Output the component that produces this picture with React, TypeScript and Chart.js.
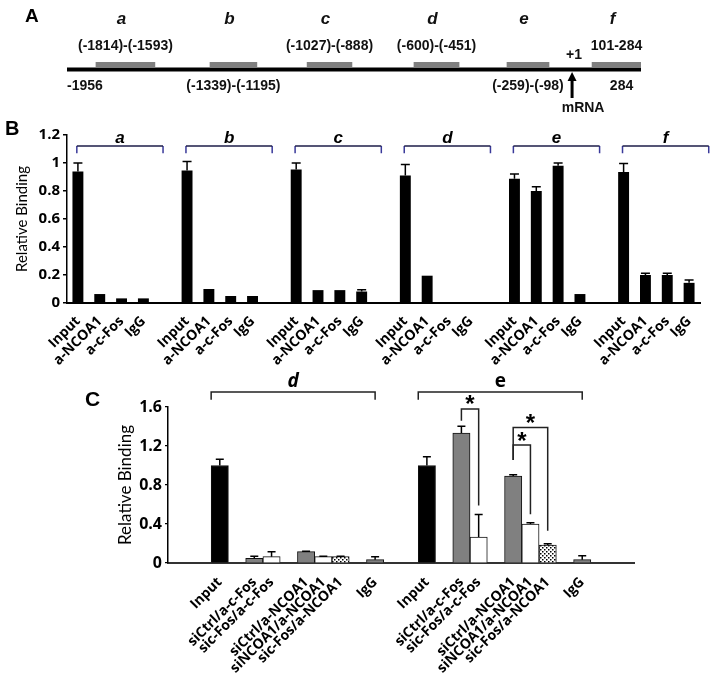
import React, { useEffect, useRef } from 'react';
import { Chart, registerables } from 'chart.js';
Chart.register(...registerables);

// ---------------- Panel A : promoter map ----------------
const trackStart = -1956;
const trackEnd = 284;
const tssPos = 15;
const segNames = ['a', 'b', 'c', 'd', 'e', 'f'];
const segStart = [-1843, -1398, -1019, -602, -239, 93];
const segEnd = [-1613, -1215, -844, -426, -75, 284];
const segRangeText = ['(-1814)-(-1593)', '(-1339)-(-1195)', '(-1027)-(-888)', '(-600)-(-451)', '(-259)-(-98)', '101-284'];
const segRangeBelow = [false, true, false, false, true, false];

// ---------------- Panel B : ChIP per region ----------------
const bGroups = ['a', 'b', 'c', 'd', 'e', 'f'];
const bAntibodies = ['Input', 'a-NCOA1', 'a-c-Fos', 'IgG'];
const bValA = [0.94, 0.064, 0.033, 0.033];
const bValB = [0.946, 0.1, 0.05, 0.05];
const bValC = [0.953, 0.092, 0.092, 0.082];
const bValD = [0.91, 0.195, 0.005, 0.005];
const bValE = [0.887, 0.8, 0.98, 0.064];
const bValF = [0.936, 0.2, 0.2, 0.144];
const bErrA = [0.06, 0, 0, 0];
const bErrB = [0.065, 0, 0, 0];
const bErrC = [0.047, 0, 0, 0.012];
const bErrD = [0.08, 0, 0, 0];
const bErrE = [0.035, 0.03, 0.02, 0];
const bErrF = [0.06, 0.012, 0.012, 0.02];
const bYTicks = { min: 0, max: 1.2, step: 0.2 };

// ---------------- Panel C : siRNA ChIP ----------------
const cGroups = ['d', 'e'];
const cLabels = ['Input', 'siCtrl/a-c-Fos', 'sic-Fos/a-c-Fos', 'siCtrl/a-NCOA1', 'siNCOA1/a-NCOA1', 'sic-Fos/a-NCOA1', 'IgG'];
const cKinds = ['input', 'ctrl', 'kd', 'ctrl', 'kd', 'kd2', 'igg'];
const cValD = [1.0, 0.048, 0.065, 0.116, 0.065, 0.065, 0.034];
const cErrD = [0.065, 0.02, 0.05, 0.005, 0.005, 0.003, 0.03];
const cValE = [1.0, 1.333, 0.267, 0.892, 0.4, 0.185, 0.034];
const cErrE = [0.09, 0.07, 0.23, 0.012, 0.012, 0.012, 0.04];
const sigFrom = [1, 3, 3];
const sigTo = [2, 4, 5];
const sigTop = [1.58, 1.21, 1.39];
const sigLeftBase = [1.46, 1.056, 1.056];
const sigRightBase = [0.59, 0.5, 0.33];
const cYTicks = { min: 0, max: 1.6, step: 0.2, labelEvery: 0.4 };

const BOLD_FONT = '"Open Sans"';
const TITLE_FONT = 'Lato';

const fmt = (v: any) => String(Math.round(Number(v) * 10) / 10);

function makeA(canvas: HTMLCanvasElement) {
  const labelsPlugin = {
    id: 'aLabels',
    afterDraw(chart: any) {
      const ctx = chart.ctx;
      const xs = chart.scales.x;
      const { top, bottom } = chart.chartArea;
      ctx.save();
      ctx.fillStyle = '#111';
      ctx.textAlign = 'center';
      ctx.textBaseline = 'middle';
      segNames.forEach((n, i) => {
        const cx = xs.getPixelForValue((segStart[i] + segEnd[i]) / 2);
        ctx.font = 'italic bold 17px "Liberation Sans", Arial';
        ctx.fillText(n, cx - 4, top - 43);
        ctx.font = 'bold 14px "Liberation Sans", Arial';
        ctx.fillText(segRangeText[i], cx, segRangeBelow[i] ? bottom + 14 : top - 16);
      });
      ctx.font = 'bold 14px "Liberation Sans", Arial';
      ctx.textAlign = 'left';
      ctx.fillText(String(trackStart), xs.getPixelForValue(trackStart), bottom + 14);
      ctx.textAlign = 'center';
      const fIdx = segNames.length - 1;
      ctx.fillText(String(trackEnd), xs.getPixelForValue((segStart[fIdx] + segEnd[fIdx]) / 2) + 5, bottom + 14);
      const ax = xs.getPixelForValue(tssPos);
      ctx.fillText('+1', ax + 2, top - 7);
      ctx.fillText('mRNA', ax + 11, bottom + 36);
      // arrow
      ctx.strokeStyle = '#000';
      ctx.lineWidth = 3;
      ctx.beginPath();
      ctx.moveTo(ax, bottom + 26);
      ctx.lineTo(ax, top + 17);
      ctx.stroke();
      ctx.beginPath();
      ctx.moveTo(ax, top + 10);
      ctx.lineTo(ax - 4.5, top + 19);
      ctx.lineTo(ax + 4.5, top + 19);
      ctx.closePath();
      ctx.fillStyle = '#000';
      ctx.fill();
      ctx.restore();
    },
  };
  return new Chart(canvas, {
    type: 'bar',
    data: {
      labels: ['box', 'track'],
      datasets: [
        ...segNames.map((n, i) => ({
          label: n,
          data: [[segStart[i], segEnd[i]], null] as any,
          backgroundColor: '#7f7f7f',
          grouped: false,
          barPercentage: 1,
          categoryPercentage: 1,
        })),
        {
          label: 'track',
          data: [null, [trackStart, trackEnd]] as any,
          backgroundColor: '#000',
          grouped: false,
          barThickness: 3.5,
        },
      ],
    },
    options: {
      indexAxis: 'y',
      responsive: false,
      animation: false,
      layout: { padding: { top: 62, bottom: 46, left: 67, right: 73 } },
      scales: {
        x: { type: 'linear', min: trackStart, max: trackEnd, display: false },
        y: { display: false },
      },
      plugins: { legend: { display: false }, tooltip: { enabled: false } },
    },
    plugins: [labelsPlugin],
  } as any);
}

function makeB(canvas: HTMLCanvasElement) {
  const vals = [bValA, bValB, bValC, bValD, bValE, bValF];
  const errs = [bErrA, bErrB, bErrC, bErrD, bErrE, bErrF];
  const labels: string[] = [];
  const data: (number | null)[] = [];
  const err: number[] = [];
  const groupStart: number[] = [];
  bGroups.forEach((g, gi) => {
    if (gi > 0) {
      labels.push('');
      data.push(null);
      err.push(0);
    }
    groupStart.push(labels.length);
    bAntibodies.forEach((ab, ai) => {
      labels.push(ab);
      data.push(vals[gi][ai]);
      err.push(errs[gi][ai]);
    });
  });

  const overlay = {
    id: 'bOverlay',
    afterDatasetsDraw(chart: any) {
      const ctx = chart.ctx;
      const xs = chart.scales.x;
      const ys = chart.scales.y;
      const meta = chart.getDatasetMeta(0);
      ctx.save();
      ctx.strokeStyle = '#000';
      ctx.lineWidth = 1.5;
      meta.data.forEach((bar: any, i: number) => {
        const v = data[i];
        if (v == null || !err[i]) return;
        const y0 = ys.getPixelForValue(v);
        const y1 = ys.getPixelForValue(v + err[i]);
        ctx.beginPath();
        ctx.moveTo(bar.x, y0);
        ctx.lineTo(bar.x, y1);
        ctx.moveTo(bar.x - 4.5, y1);
        ctx.lineTo(bar.x + 4.5, y1);
        ctx.stroke();
      });
      bGroups.forEach((g, gi) => {
        const s = groupStart[gi];
        const x0 = xs.getPixelForValue(s - 0.05);
        const x1 = xs.getPixelForValue(s + 3.9);
        const yh = ys.getPixelForValue(1.121);
        const ye = ys.getPixelForValue(1.07);
        ctx.lineWidth = 1.5;
        ctx.strokeStyle = '#3a3a9a';
        ctx.beginPath();
        ctx.moveTo(x0, ye);
        ctx.lineTo(x0, yh);
        ctx.moveTo(x1, ye);
        ctx.lineTo(x1, yh);
        ctx.stroke();
        ctx.strokeStyle = '#1c1c48';
        ctx.beginPath();
        ctx.moveTo(x0, yh);
        ctx.lineTo(x1, yh);
        ctx.stroke();
        ctx.fillStyle = '#000';
        ctx.font = `italic bold 17px "Liberation Sans", Arial`;
        ctx.textAlign = 'center';
        ctx.textBaseline = 'middle';
        ctx.fillText(g, (x0 + x1) / 2, ys.getPixelForValue(1.178));
      });
      ctx.restore();
    },
  };

  return new Chart(canvas, {
    type: 'bar',
    data: {
      labels,
      datasets: [{ data, backgroundColor: '#000', barPercentage: 0.5, categoryPercentage: 1 }],
    },
    options: {
      responsive: false,
      animation: false,
      layout: { padding: { top: 15, right: 14, left: 0, bottom: 0 } },
      plugins: { legend: { display: false }, tooltip: { enabled: false } },
      scales: {
        x: {
          ticks: {
            autoSkip: false,
            minRotation: 45,
            maxRotation: 45,
            color: '#000',
            padding: 2,
            font: { family: BOLD_FONT, weight: 'bold', size: 14 },
          },
          grid: { display: false },
          border: { color: '#000', width: 2 },
          afterFit: (s: any) => { s.height = 62; },
        },
        y: {
          min: bYTicks.min,
          max: bYTicks.max,
          ticks: {
            stepSize: bYTicks.step,
            color: '#000',
            padding: 3,
            font: { family: BOLD_FONT, weight: 'bold', size: 15 },
            callback: fmt,
          },
          grid: { drawOnChartArea: false, color: '#000', tickLength: 4, lineWidth: 1.5 },
          border: { color: '#000', width: 1.5 },
          title: {
            display: true,
            text: 'Relative Binding',
            color: '#000',
            font: { family: TITLE_FONT, size: 15 },
            padding: { top: 13, bottom: 0 },
          },
          afterFit: (s: any) => { s.width = 67; },
        },
      },
    },
    plugins: [overlay],
  } as any);
}

function makeDots(): CanvasPattern | string {
  const p = document.createElement('canvas');
  p.width = 4;
  p.height = 4;
  const c = p.getContext('2d');
  if (!c) return '#ccc';
  c.fillStyle = '#fff';
  c.fillRect(0, 0, 4, 4);
  c.fillStyle = '#000';
  c.fillRect(0, 0, 1.5, 1.5);
  c.fillRect(2, 2, 1.5, 1.5);
  return c.createPattern(p, 'repeat') || '#ccc';
}

function makeC(canvas: HTMLCanvasElement) {
  const dots = makeDots();
  const fillFor: Record<string, any> = {
    input: '#000',
    ctrl: '#808080',
    kd: '#ffffff',
    kd2: dots,
    igg: '#808080',
  };
  const vals = [cValD, cValE];
  const errs = [cErrD, cErrE];
  const labels: string[] = [];
  const data: (number | null)[] = [];
  const err: number[] = [];
  const colors: any[] = [];
  const slotOf: number[][] = [];
  const gap = (n: number) => {
    for (let k = 0; k < n; k++) {
      labels.push('');
      data.push(null);
      err.push(0);
      colors.push('#fff');
    }
  };
  const put = (gi: number, li: number) => {
    slotOf[gi][li] = labels.length;
    labels.push(cLabels[li]);
    data.push(vals[gi][li]);
    err.push(errs[gi][li]);
    colors.push(fillFor[cKinds[li]]);
  };
  gap(3);
  cGroups.forEach((g, gi) => {
    slotOf.push([]);
    if (gi > 0) gap(2);
    put(gi, 0);
    gap(1);
    put(gi, 1);
    put(gi, 2);
    gap(1);
    put(gi, 3);
    put(gi, 4);
    put(gi, 5);
    gap(1);
    put(gi, 6);
  });
  gap(3);

  const overlay = {
    id: 'cOverlay',
    afterDatasetsDraw(chart: any) {
      const ctx = chart.ctx;
      const xs = chart.scales.x;
      const ys = chart.scales.y;
      const meta = chart.getDatasetMeta(0);
      ctx.save();
      ctx.strokeStyle = '#000';
      ctx.lineWidth = 1.5;
      meta.data.forEach((bar: any, i: number) => {
        const v = data[i];
        if (v == null || !err[i]) return;
        const y0 = ys.getPixelForValue(v);
        const y1 = ys.getPixelForValue(v + err[i]);
        ctx.beginPath();
        ctx.moveTo(bar.x, y0);
        ctx.lineTo(bar.x, y1);
        ctx.moveTo(bar.x - 4, y1);
        ctx.lineTo(bar.x + 4, y1);
        ctx.stroke();
      });
      // group brackets
      const groupFonts = [`italic bold 19px ${BOLD_FONT}`, `bold 19px ${BOLD_FONT}`];
      ctx.strokeStyle = '#222';
      cGroups.forEach((g, gi) => {
        const x0 = xs.getPixelForValue(slotOf[gi][0] - 0.5);
        const x1 = xs.getPixelForValue(slotOf[gi][6]);
        const yh = ys.getPixelForValue(1.754);
        const ye = ys.getPixelForValue(1.675);
        ctx.beginPath();
        ctx.moveTo(x0, ye);
        ctx.lineTo(x0, yh);
        ctx.lineTo(x1, yh);
        ctx.lineTo(x1, ye);
        ctx.stroke();
        ctx.fillStyle = '#000';
        ctx.font = groupFonts[gi];
        ctx.textAlign = 'center';
        ctx.textBaseline = 'middle';
        ctx.fillText(g, (x0 + x1) / 2, ys.getPixelForValue(1.856));
      });
      // significance brackets (group e)
      const eg = cGroups.length - 1;
      ctx.font = `bold 24px "Liberation Sans", Arial`;
      ctx.textAlign = 'center';
      ctx.textBaseline = 'alphabetic';
      const m = ctx.measureText('*');
      const starShift = ((m.actualBoundingBoxAscent || 12) - (m.actualBoundingBoxDescent || 0)) / 2;
      sigFrom.forEach((f, k) => {
        const xa = xs.getPixelForValue(slotOf[eg][f]);
        const xb = xs.getPixelForValue(slotOf[eg][sigTo[k]]);
        const yt = ys.getPixelForValue(sigTop[k]);
        ctx.beginPath();
        ctx.moveTo(xa, ys.getPixelForValue(sigLeftBase[k]));
        ctx.lineTo(xa, yt);
        ctx.lineTo(xb, yt);
        ctx.lineTo(xb, ys.getPixelForValue(sigRightBase[k]));
        ctx.stroke();
        ctx.fillText('*', (xa + xb) / 2, yt - 9 + starShift);
      });
      ctx.restore();
    },
  };

  return new Chart(canvas, {
    type: 'bar',
    data: {
      labels,
      datasets: [{
        data,
        backgroundColor: colors,
        borderColor: '#111',
        borderWidth: 1,
        barPercentage: 1,
        categoryPercentage: 1,
      }],
    },
    options: {
      responsive: false,
      animation: false,
      layout: { padding: { top: 42, right: 80, left: 100, bottom: 0 } },
      plugins: { legend: { display: false }, tooltip: { enabled: false } },
      scales: {
        x: {
          offset: false,
          ticks: {
            autoSkip: false,
            minRotation: 45,
            maxRotation: 45,
            color: '#000',
            padding: 3,
            font: { family: BOLD_FONT, weight: 'bold', size: 14 },
          },
          grid: { display: false, offset: false },
          border: { color: '#333', width: 2 },
          afterFit: (s: any) => { s.height = 112; },
        },
        y: {
          min: cYTicks.min,
          max: cYTicks.max,
          ticks: {
            stepSize: cYTicks.step,
            color: '#000',
            padding: 3,
            font: { family: BOLD_FONT, weight: 'bold', size: 16 },
            callback: (v: any) => {
              const n = Number(v);
              const r = Math.round((n / cYTicks.labelEvery) * 1000) / 1000;
              return Number.isInteger(r) ? fmt(n) : '';
            },
          },
          grid: { drawOnChartArea: false, color: '#000', tickLength: 3, lineWidth: 1.2 },
          border: { color: '#000', width: 1.5 },
          title: {
            display: true,
            text: 'Relative Binding',
            color: '#000',
            font: { family: TITLE_FONT, size: 17 },
            padding: { top: 15, bottom: 0 },
          },
          afterFit: (s: any) => { s.width = 68; },
        },
      },
    },
    plugins: [overlay],
  } as any);
}

export default function App() {
  const aRef = useRef<HTMLCanvasElement>(null);
  const bRef = useRef<HTMLCanvasElement>(null);
  const cRef = useRef<HTMLCanvasElement>(null);

  useEffect(() => {
    const charts = [makeA(aRef.current!), makeB(bRef.current!), makeC(cRef.current!)];
    return () => charts.forEach((c) => c.destroy());
  }, []);

  const letter = (txt: string, left: number, top: number, size: number) => (
    <div
      style={{
        position: 'absolute',
        left,
        top,
        fontFamily: '"Liberation Sans", Arial, sans-serif',
        fontWeight: 'bold',
        fontSize: size,
        lineHeight: 1,
        color: '#000',
      }}
    >
      {txt}
    </div>
  );

  return (
    <div style={{ position: 'absolute', left: 0, top: 0, width: 714, height: 675, background: '#fff', overflow: 'hidden' }}>
      <canvas ref={aRef} width={714} height={118} style={{ position: 'absolute', left: 0, top: 0 }} />
      <canvas ref={bRef} width={714} height={245} style={{ position: 'absolute', left: 0, top: 120 }} />
      <canvas ref={cRef} width={714} height={310} style={{ position: 'absolute', left: 0, top: 365 }} />
      {letter('A', 25, 6, 19)}
      {letter('B', 5, 118, 20)}
      {letter('C', 85, 388, 21)}
    </div>
  );
}
